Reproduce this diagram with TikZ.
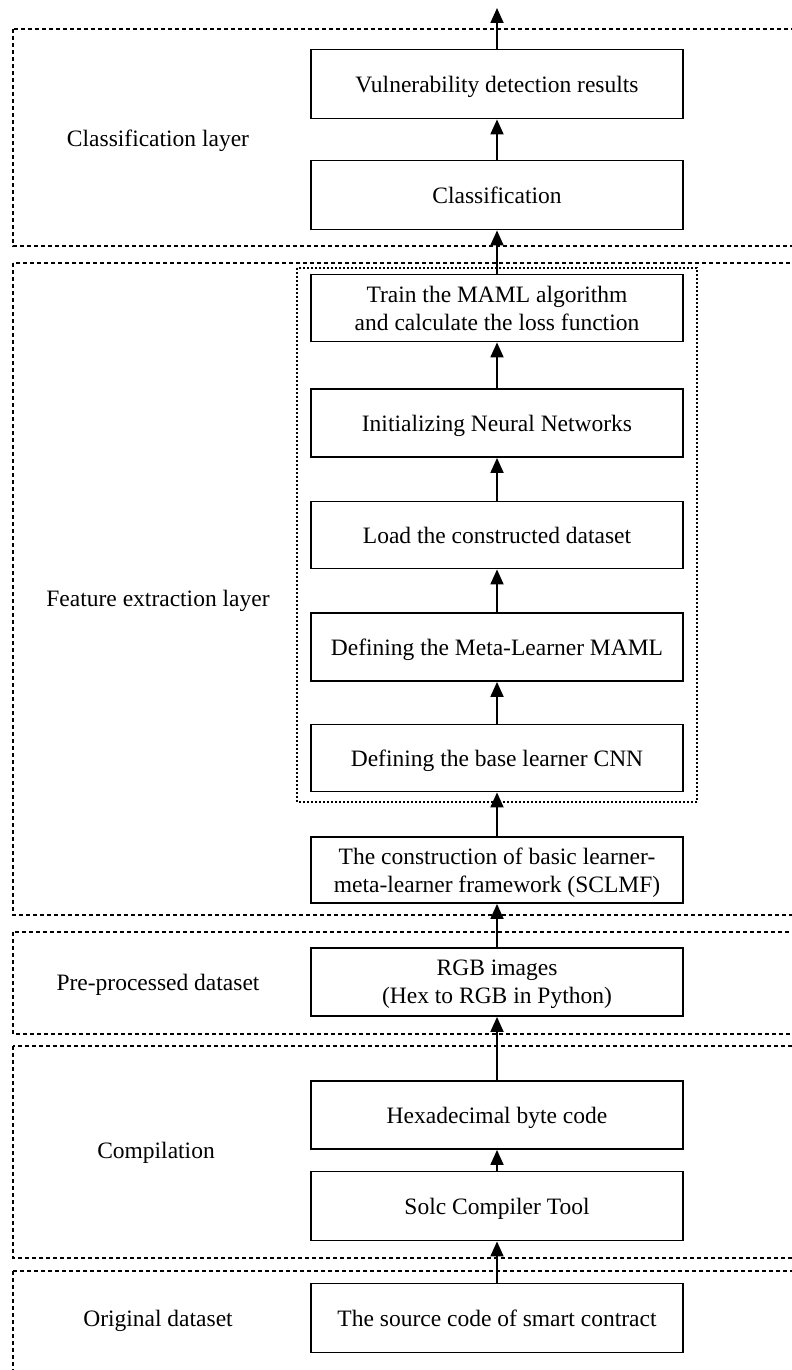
\documentclass[tikz,border=0pt]{standalone}
\usepackage{fontspec}
\setmainfont{Liberation Serif}
\usetikzlibrary{arrows.meta}
\begin{document}
\begin{tikzpicture}[x=1pt,y=-1pt,
  box/.style={draw,line width=1.8pt,minimum width=372pt,inner sep=0pt,align=center,font=\fontsize{23.5}{28}\selectfont,fill=white,text depth=0pt},
  layer/.style={draw,line width=1.6pt,dash pattern=on 4pt off 3pt},
  inner/.style={draw,line width=1.3pt,dash pattern=on 2pt off 2pt},
  lbl/.style={font=\fontsize{23.5}{28}\selectfont,text depth=0pt},
  arr/.style={line width=1.8pt,-{Triangle[length=15pt,width=13pt]}}]
\useasboundingbox (0,0) rectangle (792,1370);
\clip (0,0) rectangle (792,1370);
% layers
\draw[layer] (13,29) rectangle (810,246);
\draw[layer] (13,263) rectangle (810,915);
\draw[layer] (13,932) rectangle (810,1034);
\draw[layer] (13,1046) rectangle (810,1258);
\draw[layer] (13,1271) rectangle (810,1400);
\draw[inner] (297,268) rectangle (697,802);
% labels
\node[lbl] (l1) at (158,138) {Classification layer};
\node[lbl] (l2) at (158,598) {Feature extraction layer};
\node[lbl] (l3) at (158,982) {Pre-processed dataset};
\node[lbl] (l4) at (156,1150) {Compilation};
\node[lbl] (l5) at (158,1318) {Original dataset};
% boxes
\node[box,minimum height=69pt] (vul) at (497,84) {Vulnerability detection results};
\node[box,minimum height=69pt] (cls) at (497,195) {Classification};
\node[box,minimum height=67pt] (train) at (497,308) {Train the MAML algorithm\\and calculate the loss function};
\node[box,minimum height=68pt] (init) at (497,423) {Initializing Neural Networks};
\node[box,minimum height=67pt] (load) at (497,535) {Load the constructed dataset};
\node[box,minimum height=68pt] (meta) at (497,647) {Defining the Meta-Learner MAML};
\node[box,minimum height=67pt] (base) at (497,758) {Defining the base learner CNN};
\node[box,minimum height=66pt] (sclmf) at (497,870) {The construction of basic learner-\\meta-learner framework (SCLMF)};
\node[box,minimum height=68pt] (rgb) at (497,982) {RGB images\\(Hex to RGB in Python)};
\node[box,minimum height=68pt] (hex) at (497,1115) {Hexadecimal byte code};
\node[box,minimum height=69pt] (solc) at (497,1206) {Solc Compiler Tool};
\node[box,minimum height=69pt] (src) at (497,1318) {The source code of smart contract};
\coordinate (top) at (497,8);
% arrows
\draw[arr] (src.north) -- (solc.south);
\draw[arr] (solc.north) -- (hex.south);
\draw[arr] (hex.north) -- (rgb.south);
\draw[arr] (rgb.north) -- (sclmf.south);
\draw[arr] (sclmf.north) -- (base.south);
\draw[arr] (base.north) -- (meta.south);
\draw[arr] (meta.north) -- (load.south);
\draw[arr] (load.north) -- (init.south);
\draw[arr] (init.north) -- (train.south);
\draw[arr] (train.north) -- (cls.south);
\draw[arr] (cls.north) -- (vul.south);
\draw[arr] (vul.north) -- (top);
\end{tikzpicture}
\end{document}
